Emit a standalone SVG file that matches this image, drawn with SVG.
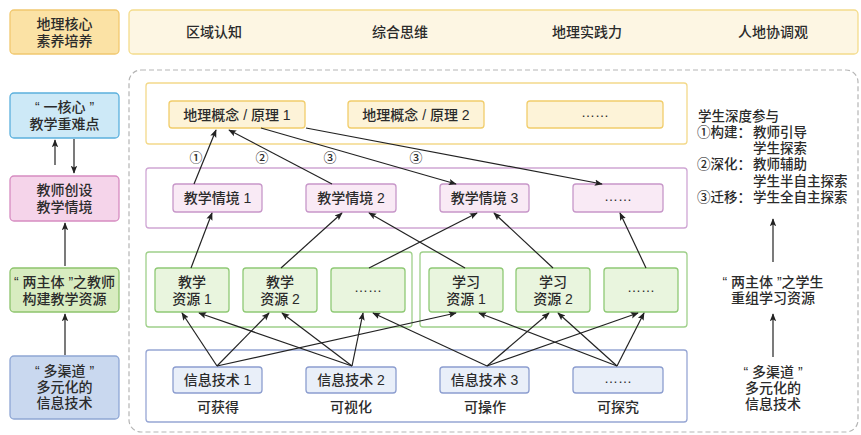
<svg xmlns="http://www.w3.org/2000/svg" width="861" height="435" viewBox="0 0 861 435">
<defs>
<marker id="ah" viewBox="0 0 10 10" refX="9" refY="5" markerWidth="8" markerHeight="8" orient="auto-start-reverse" markerUnits="userSpaceOnUse">
<path d="M0,1 L10,5 L0,9 L2,5 z" fill="#222"/>
</marker>
<style>
text{font-family:"Liberation Sans","Noto Sans CJK SC",sans-serif;fill:#2b2b2b;font-size:14px;text-anchor:middle;font-weight:500}
.l{text-anchor:start;font-size:13.5px}
.n{font-size:13px}
.c{stroke:#222;stroke-width:1.2;fill:none;marker-end:url(#ah)}
.cont{fill:#fff;stroke-width:1.3}
.con{fill:#fdf3d8;stroke:#f1cd6b;stroke-width:1.3}
.sit{fill:#f9eaf5;stroke:#c797c9;stroke-width:1.3}
.res{fill:#e9f5de;stroke:#8fc975;stroke-width:1.3}
.tec{fill:#e9eff9;stroke:#8c9dcf;stroke-width:1.3}
</style>
</defs>
<rect width="861" height="435" fill="#fff"/>

<g id="core-title"><rect x="10" y="10" width="109" height="44" rx="4" fill="#fbe2a5" stroke="#f1c86f" stroke-width="1.3"/><text x="64.5" y="29">地理核心<tspan x="64.5" y="46">素养培养</tspan></text></g>
<g id="core-banner"><rect x="129" y="10" width="729" height="44" rx="4" fill="#fdf6e3" stroke="#f4dc8c" stroke-width="1.3"/>
<text x="214" y="37">区域认知</text><text x="400" y="37">综合思维</text><text x="587" y="37">地理实践力</text><text x="773" y="37">人地协调观</text></g>

<g id="left-1"><rect x="10" y="93" width="109" height="45" rx="4" fill="#cde9f7" stroke="#5bb0dd" stroke-width="1.3"/><text x="64.5" y="112">“ 一核心 ”<tspan x="64.5" y="129">教学重难点</tspan></text></g>
<g id="left-2"><rect x="10" y="176" width="109" height="45" rx="4" fill="#f5d4ea" stroke="#d68cc1" stroke-width="1.3"/><text x="64.5" y="195">教师创设<tspan x="64.5" y="212">教学情境</tspan></text></g>
<g id="left-3"><rect x="10" y="268" width="109" height="44" rx="4" fill="#d8ecc0" stroke="#8dc46c" stroke-width="1.3"/><text x="64.5" y="287">“ 两主体 ”之教师<tspan x="64.5" y="304">构建教学资源</tspan></text></g>
<g id="left-4"><rect x="10" y="356" width="109" height="63" rx="4" fill="#c9d8ef" stroke="#8ea6d4" stroke-width="1.3"/><text x="64.5" y="376">“ 多渠道 ”<tspan x="64.5" y="392">多元化的</tspan><tspan x="64.5" y="408">信息技术</tspan></text></g>

<g id="main-frame"><rect x="129" y="70" width="729" height="362" rx="12" fill="none" stroke="#b5b5b5" stroke-width="1.2" stroke-dasharray="5,3"/></g>

<g id="layer-concepts"><rect class="cont" x="146" y="83" width="541" height="61" rx="3" stroke="#f3d98a"/></g>
<g id="layer-situations"><rect class="cont" x="146" y="168" width="541" height="60" rx="3" stroke="#cfa6d4"/></g>
<g id="layer-teach-res"><rect class="cont" x="146" y="252" width="266" height="75" rx="3" stroke="#9fd08a"/></g>
<g id="layer-learn-res"><rect class="cont" x="420" y="252" width="267" height="75" rx="3" stroke="#9fd08a"/></g>
<g id="layer-tech"><rect class="cont" x="146" y="350" width="541" height="72" rx="3" stroke="#97a6d4"/></g>

<g id="concept-1"><rect class="con" x="169" y="101" width="136" height="27" rx="3"/><text x="237" y="119.5">地理概念 / 原理 1</text></g>
<g id="concept-2"><rect class="con" x="348" y="101" width="136" height="27" rx="3"/><text x="416" y="119.5">地理概念 / 原理 2</text></g>
<g id="concept-3"><rect class="con" x="527" y="101" width="136" height="27" rx="3"/><text x="595" y="117">……</text></g>

<g id="sit-1"><rect class="sit" x="173" y="184" width="89" height="28" rx="3"/><text x="217.5" y="203">教学情境 1</text></g>
<g id="sit-2"><rect class="sit" x="306" y="184" width="90" height="28" rx="3"/><text x="351" y="203">教学情境 2</text></g>
<g id="sit-3"><rect class="sit" x="440" y="184" width="89" height="28" rx="3"/><text x="484.5" y="203">教学情境 3</text></g>
<g id="sit-4"><rect class="sit" x="573" y="184" width="90" height="28" rx="3"/><text x="618" y="200.5">……</text></g>

<g id="tres-1"><rect class="res" x="155" y="268" width="74" height="44" rx="3"/><text x="192" y="287">教学<tspan x="192" y="304">资源 1</tspan></text></g>
<g id="tres-2"><rect class="res" x="243" y="268" width="74" height="44" rx="3"/><text x="280" y="287">教学<tspan x="280" y="304">资源 2</tspan></text></g>
<g id="tres-3"><rect class="res" x="331" y="268" width="74" height="44" rx="3"/><text x="368" y="292">……</text></g>
<g id="lres-1"><rect class="res" x="429" y="268" width="74" height="44" rx="3"/><text x="466" y="287">学习<tspan x="466" y="304">资源 1</tspan></text></g>
<g id="lres-2"><rect class="res" x="516" y="268" width="74" height="44" rx="3"/><text x="553" y="287">学习<tspan x="553" y="304">资源 2</tspan></text></g>
<g id="lres-3"><rect class="res" x="604" y="268" width="74" height="44" rx="3"/><text x="641" y="292">……</text></g>

<g id="tech-1"><rect class="tec" x="173" y="367" width="89" height="26" rx="3"/><text x="217.5" y="385">信息技术 1</text><text x="218" y="412">可获得</text></g>
<g id="tech-2"><rect class="tec" x="306" y="367" width="90" height="26" rx="3"/><text x="351" y="385">信息技术 2</text><text x="351" y="412">可视化</text></g>
<g id="tech-3"><rect class="tec" x="440" y="367" width="89" height="26" rx="3"/><text x="484.5" y="385">信息技术 3</text><text x="485" y="412">可操作</text></g>
<g id="tech-4"><rect class="tec" x="573" y="367" width="90" height="26" rx="3"/><text x="618" y="383">……</text><text x="618" y="412">可探究</text></g>

<g id="notes">
<text class="l" x="698" y="121">学生深度参与<tspan x="697" y="137">①构建：</tspan><tspan x="753" y="137">教师引导</tspan><tspan x="753" y="153">学生探索</tspan><tspan x="697" y="169">②深化：</tspan><tspan x="753" y="169">教师辅助</tspan><tspan x="753" y="186">学生半自主探索</tspan><tspan x="697" y="202">③迁移：</tspan><tspan x="753" y="202">学生全自主探索</tspan></text>
<text x="773" y="287">“ 两主体 ”之学生<tspan x="773" y="303">重组学习资源</tspan></text>
<text x="773" y="377">“ 多渠道 ”<tspan x="773" y="393">多元化的</tspan><tspan x="773" y="409">信息技术</tspan></text>
<text class="n" x="196" y="162">①</text>
<text class="n" x="262" y="162">②</text>
<text class="n" x="330" y="162">③</text>
<text class="n" x="416" y="162">③</text>
</g>

<g id="connectors">
<line class="c" x1="55" y1="165" x2="55" y2="140"/>
<line class="c" x1="74" y1="139" x2="74" y2="173"/>
<line class="c" x1="65" y1="266" x2="65" y2="223"/>
<line class="c" x1="65" y1="355" x2="65" y2="314"/>
<line class="c" x1="773" y1="262" x2="773" y2="219"/>
<line class="c" x1="773" y1="357" x2="773" y2="314"/>

<line class="c" x1="194" y1="184" x2="216" y2="130"/>
<line class="c" x1="332" y1="184" x2="229" y2="130"/>
<line class="c" x1="261" y1="128" x2="456" y2="184"/>
<line class="c" x1="306" y1="128" x2="602" y2="184"/>

<line class="c" x1="191" y1="268" x2="212" y2="213"/>
<line class="c" x1="281" y1="268" x2="342" y2="213"/>
<line class="c" x1="369" y1="268" x2="477" y2="213"/>
<line class="c" x1="465" y1="268" x2="369" y2="213"/>
<line class="c" x1="553" y1="268" x2="494" y2="213"/>
<line class="c" x1="646" y1="268" x2="620" y2="213"/>

<line class="c" x1="217" y1="366" x2="182" y2="313"/>
<line class="c" x1="217" y1="366" x2="269" y2="313"/>
<line class="c" x1="217" y1="366" x2="456" y2="313"/>
<line class="c" x1="352" y1="366" x2="199" y2="313"/>
<line class="c" x1="352" y1="366" x2="282" y2="313"/>
<line class="c" x1="352" y1="366" x2="363" y2="313"/>
<line class="c" x1="487" y1="366" x2="373" y2="313"/>
<line class="c" x1="487" y1="366" x2="549" y2="313"/>
<line class="c" x1="487" y1="366" x2="638" y2="313"/>
<line class="c" x1="617" y1="366" x2="479" y2="313"/>
<line class="c" x1="617" y1="366" x2="558" y2="313"/>
<line class="c" x1="617" y1="366" x2="644" y2="313"/>
</g>
</svg>
